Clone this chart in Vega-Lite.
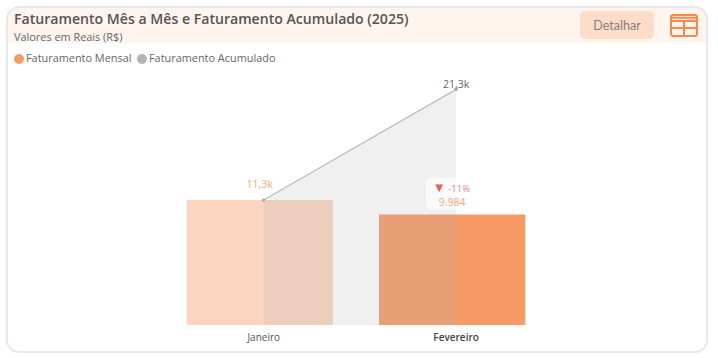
{
"$schema":"https://vega.github.io/schema/vega-lite/v6.json",
"width":700,"height":345,
"autosize":"none",
"padding":{"left":7,"top":7,"right":11,"bottom":6},
"background":"#ffffff",
"config":{"font":"Open Sans","view":{"fill":{"gradient":"linear","x1":0,"y1":0,"x2":0,"y2":1,"stops":[{"offset":0,"color":"#fff4ee"},{"offset":0.104,"color":"#fff4ee"},{"offset":0.104,"color":"#ffffff"},{"offset":1,"color":"#ffffff"}]},"stroke":"#e8e8e8","strokeWidth":2,"cornerRadius":12}},
"title":{"text":"Faturamento Mês a Mês e Faturamento Acumulado (2025)","subtitle":"Valores em Reais (R$)","anchor":"start","frame":"group","orient":"top","offset":-36,"dx":7,"font":"Open Sans","fontSize":14.1,"fontWeight":600,"color":"#555555","subtitleFont":"Open Sans","subtitleFontSize":10.9,"subtitleColor":"#666666","subtitlePadding":5},
"data":{"values":[
{"mes":"Janeiro","serie":"Faturamento Mensal","valor":11300,"rotulo":"11,3k"},
{"mes":"Fevereiro","serie":"Faturamento Mensal","valor":9984,"rotulo":"9.984","variacao":"-11%","seta":"▼"},
{"mes":"Janeiro","serie":"Faturamento Acumulado","valor":11300},
{"mes":"Fevereiro","serie":"Faturamento Acumulado","valor":21300,"rotulo":"21,3k"}
]},
"encoding":{
"x":{"field":"mes","type":"nominal","sort":["Janeiro","Fevereiro"],"scale":{"range":[156.5,541.3],"paddingInner":0.24,"paddingOuter":0.12},"axis":{"title":null,"domain":false,"ticks":false,"labelAngle":0,"offset":-27,"labelPadding":7,"labelOffset":4,"labelFontSize":10,"labelFont":"Open Sans","labelColor":{"condition":{"test":"datum.value==='Fevereiro'","value":"#444444"},"value":"#555555"},"labelFontWeight":{"condition":{"test":"datum.value==='Fevereiro'","value":600},"value":400}}},
"y":{"field":"valor","type":"quantitative","scale":{"domain":[0,28750],"range":[318,0]},"axis":null}
},
"layer":[
{"transform":[{"filter":"datum.serie==='Faturamento Mensal'"}],
 "mark":{"type":"bar"},
 "encoding":{"color":{"field":"serie","type":"nominal","scale":{"domain":["Faturamento Mensal","Faturamento Acumulado"],"range":["#f69a67","#b3b3b3"]},"legend":{"title":null,"orient":"none","legendX":6,"legendY":46,"direction":"horizontal","symbolType":"circle","symbolSize":100,"labelFontSize":10.9,"labelColor":"#666666","labelFont":"Open Sans","columnPadding":4,"labelOffset":1,"encode":{"symbols":{"update":{"opacity":{"value":1},"fillOpacity":{"value":1}}}}}},
 "opacity":{"condition":{"test":"datum.mes==='Janeiro'","value":0.42},"value":1}}},
{"transform":[{"filter":"datum.serie==='Faturamento Acumulado'"}],
 "mark":{"type":"area","opacity":0.2,"xOffset":4},
 "encoding":{"color":{"field":"serie","type":"nominal"}}},
{"transform":[{"filter":"datum.serie==='Faturamento Acumulado'"}],
 "mark":{"type":"line","strokeWidth":1.3,"stroke":"#bdbdbd","xOffset":4}},
{"transform":[{"filter":"datum.serie==='Faturamento Acumulado'"}],
 "mark":{"type":"point","filled":true,"size":14,"opacity":1,"fill":"#b3b3b3","xOffset":4}},
{"transform":[{"filter":"datum.mes==='Fevereiro' && datum.serie==='Faturamento Mensal'"}],
 "mark":{"type":"rect","width":52,"height":32,"cornerRadius":5,"fill":"#ffffff","opacity":0.65,"yOffset":-21}},
{"transform":[{"filter":"datum.serie==='Faturamento Mensal' && datum.mes==='Janeiro'"}],
 "mark":{"type":"text","color":"#f7a878","fontSize":10.5,"dy":-15},
 "encoding":{"text":{"field":"rotulo"}}},
{"transform":[{"filter":"datum.serie==='Faturamento Mensal' && datum.mes==='Fevereiro'"}],
 "mark":{"type":"text","color":"#f7a878","fontSize":10.5,"dy":-12},
 "encoding":{"text":{"field":"rotulo"}}},
{"transform":[{"filter":"datum.serie==='Faturamento Acumulado' && datum.rotulo"}],
 "mark":{"type":"text","color":"#666666","fontSize":10.5,"dy":-4,"xOffset":4},
 "encoding":{"text":{"field":"rotulo"}}},
{"transform":[{"filter":"datum.seta"}],
 "mark":{"type":"text","color":"#e5605a","fontSize":13,"dy":-27,"dx":-13},
 "encoding":{"text":{"field":"seta"}}},
{"transform":[{"filter":"datum.variacao"}],
 "mark":{"type":"text","color":"#f07f7f","fontSize":9.5,"dy":-26,"dx":7},
 "encoding":{"text":{"field":"variacao"}}},
{"data":{"values":[{}]},
 "mark":{"type":"rect","color":"#fddcc8","cornerRadius":5},
 "encoding":{"x":{"value":573},"x2":{"value":647},"y":{"value":4},"y2":{"value":32}}},
{"data":{"values":[{"botao":"Detalhar"}]},
 "mark":{"type":"text","color":"#877f78","fontSize":12.5,"font":"Lato"},
 "encoding":{"x":{"value":610},"y":{"value":19},"text":{"field":"botao"}}},
{"data":{"values":[{}]},
 "mark":{"type":"point","shape":"M-1,-0.6 Q-1,-0.8 -0.85,-0.8 L0.85,-0.8 Q1,-0.8 1,-0.6 L1,0.6 Q1,0.8 0.85,0.8 L-0.85,0.8 Q-1,0.8 -1,0.6 Z M-1,-0.6 L1,-0.6 M-1,-0.35 L1,-0.35 M-1,0.2 L1,0.2 M0,-0.35 L0,0.8","size":676,"stroke":"#f58a4b","strokeWidth":2,"opacity":1,"fill":"#ffffff","fillOpacity":0},
 "encoding":{"x":{"value":677},"y":{"value":18.5}}}
]
}
